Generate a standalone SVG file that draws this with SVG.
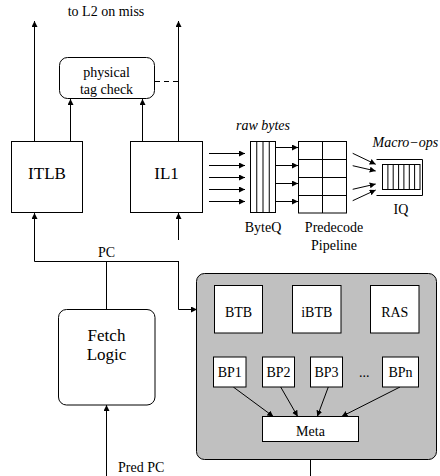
<svg xmlns="http://www.w3.org/2000/svg" width="440" height="476" viewBox="0 0 440 476">
<style>
text{font-family:'Liberation Serif','Times New Roman',serif;font-size:14px;fill:#000;text-anchor:middle}
.big{font-size:17px}
.it{font-style:italic}
.box{fill:#fff;stroke:#000;stroke-width:1}
.ln{fill:none;stroke:#000;stroke-width:1}
.arr{fill:none;stroke:#000;stroke-width:1;marker-end:url(#ah)}
</style>
<defs>
<marker id="ah" markerUnits="userSpaceOnUse" markerWidth="7" markerHeight="6" refX="6" refY="3" orient="auto">
<path d="M0,0 L6,3 L0,6 z" fill="#000"/>
</marker>
</defs>
<rect width="440" height="476" fill="#fff"/>

<g id="predictor">
<rect x="196.5" y="273.5" width="240" height="186" rx="8" fill="#c0c0c0" stroke="#000" stroke-width="1"/>
</g>

<g id="connectors">
<line class="arr" x1="34.5" y1="141" x2="34.5" y2="21"/>
<line class="arr" x1="178.5" y1="141" x2="178.5" y2="21"/>
<line class="arr" x1="70.5" y1="141" x2="70.5" y2="99"/>
<line class="arr" x1="142.5" y1="141" x2="142.5" y2="99"/>
<line class="ln" x1="155" y1="81.5" x2="178.5" y2="81.5" stroke-dasharray="5,4"/>
<polyline class="ln" points="34.5,213 34.5,261.5 178.5,261.5"/>
<line class="arr" x1="34.5" y1="240" x2="34.5" y2="213"/>
<line class="arr" x1="178.5" y1="240" x2="178.5" y2="213"/>
<polyline class="arr" points="178.5,261 178.5,309.5 197,309.5"/>
<line class="ln" x1="106.5" y1="261.5" x2="106.5" y2="309"/>
<line class="arr" x1="106.5" y1="476" x2="106.5" y2="405"/>
<line class="ln" x1="310.5" y1="459" x2="310.5" y2="476"/>
<line class="arr" x1="209" y1="153.5" x2="245" y2="153.5"/>
<line class="arr" x1="209" y1="165.5" x2="245" y2="165.5"/>
<line class="arr" x1="209" y1="177.5" x2="245" y2="177.5"/>
<line class="arr" x1="209" y1="189.5" x2="245" y2="189.5"/>
<line class="arr" x1="209" y1="201.5" x2="245" y2="201.5"/>
<line class="arr" x1="275" y1="147.5" x2="298" y2="147.5"/>
<line class="arr" x1="275" y1="165.5" x2="298" y2="165.5"/>
<line class="arr" x1="275" y1="183.5" x2="298" y2="183.5"/>
<line class="arr" x1="275" y1="201.5" x2="298" y2="201.5"/>
<line class="arr" x1="352.7" y1="153.3" x2="375.7" y2="164.3"/>
<line class="arr" x1="352.7" y1="165.7" x2="375.7" y2="171"/>
<line class="arr" x1="352.7" y1="189.3" x2="375.7" y2="184"/>
<line class="arr" x1="352.7" y1="200.7" x2="375.7" y2="190"/>
<line class="arr" x1="233.3" y1="387" x2="273.3" y2="416.5"/>
<line class="arr" x1="280.7" y1="387" x2="297.7" y2="416.5"/>
<line class="arr" x1="328.3" y1="387" x2="317.3" y2="416.5"/>
<line class="arr" x1="400" y1="387" x2="341.7" y2="416.5"/>
</g>

<text x="106" y="16">to L2 on miss</text>

<g id="tagcheck">
<rect class="box" x="59.5" y="57.5" width="95" height="41" rx="8"/>
<text x="106.5" y="77">physical</text>
<text x="106.5" y="93.5">tag check</text>
</g>

<g id="itlb">
<rect class="box" x="11.5" y="141.5" width="71" height="71"/>
<text class="big" x="47" y="178.5">ITLB</text>
</g>

<g id="il1">
<rect class="box" x="130.5" y="141.5" width="72" height="71"/>
<text class="big" x="166.5" y="178.5">IL1</text>
</g>

<text x="106.5" y="256.5">PC</text>

<g id="fetch">
<rect class="box" x="58.5" y="309.5" width="96.5" height="95.5" rx="8"/>
<text class="big" x="106.5" y="340.5">Fetch</text>
<text class="big" x="106.5" y="360">Logic</text>
</g>

<text x="118" y="472" style="text-anchor:start">Pred PC</text>

<g id="byteq">
<rect class="box" x="250.5" y="141.5" width="25" height="71"/>
<line class="ln" x1="256.75" y1="141.5" x2="256.75" y2="212.5"/>
<line class="ln" x1="263" y1="141.5" x2="263" y2="212.5"/>
<line class="ln" x1="269.25" y1="141.5" x2="269.25" y2="212.5"/>
<text class="it" x="263" y="129.5">raw bytes</text>
<text x="263" y="232">ByteQ</text>
</g>

<g id="predecode">
<rect class="box" x="298.5" y="141.5" width="48" height="71.5"/>
<line class="ln" x1="322.5" y1="141.5" x2="322.5" y2="213"/>
<line class="ln" x1="298.5" y1="159.5" x2="346.5" y2="159.5"/>
<line class="ln" x1="298.5" y1="177.5" x2="346.5" y2="177.5"/>
<line class="ln" x1="298.5" y1="195.5" x2="346.5" y2="195.5"/>
<text x="334" y="232">Predecode</text>
<text x="334" y="249.5">Pipeline</text>
</g>

<g id="iq">
<polyline class="ln" points="376.5,159.5 422.5,159.5 422.5,195.5 376.5,195.5"/>
<rect class="box" x="382.5" y="164.5" width="37.5" height="25"/>
<line class="ln" x1="387.9" y1="164.5" x2="387.9" y2="189.5"/>
<line class="ln" x1="393.2" y1="164.5" x2="393.2" y2="189.5"/>
<line class="ln" x1="398.6" y1="164.5" x2="398.6" y2="189.5"/>
<line class="ln" x1="403.9" y1="164.5" x2="403.9" y2="189.5"/>
<line class="ln" x1="409.3" y1="164.5" x2="409.3" y2="189.5"/>
<line class="ln" x1="414.6" y1="164.5" x2="414.6" y2="189.5"/>
<text class="it" x="372.5" y="146.5" style="text-anchor:start">Macro−ops</text>
<text x="401" y="214">IQ</text>
</g>

<g id="btb">
<rect class="box" x="214.5" y="285.5" width="48" height="47.5"/>
<text x="238.5" y="316.5">BTB</text>
</g>
<g id="ibtb">
<rect class="box" x="292.5" y="285.5" width="48.5" height="47.5"/>
<text x="316.75" y="316.5">iBTB</text>
</g>
<g id="ras">
<rect class="box" x="370.5" y="285.5" width="48.5" height="47.5"/>
<text x="394.75" y="316.5">RAS</text>
</g>

<g id="bp1">
<rect class="box" x="213.5" y="357" width="32.5" height="30"/>
<text x="229.75" y="376.5">BP1</text>
</g>
<g id="bp2">
<rect class="box" x="262.5" y="357" width="32" height="30"/>
<text x="278.5" y="376.5">BP2</text>
</g>
<g id="bp3">
<rect class="box" x="310.5" y="357" width="32" height="30"/>
<text x="326.5" y="376.5">BP3</text>
</g>
<text x="364.3" y="376.5">...</text>
<g id="bpn">
<rect class="box" x="382.5" y="357" width="36" height="30"/>
<text x="400.5" y="376.5">BPn</text>
</g>

<g id="meta">
<rect class="box" x="262.5" y="416.5" width="96" height="25"/>
<text x="310.5" y="435.5">Meta</text>
</g>
</svg>
